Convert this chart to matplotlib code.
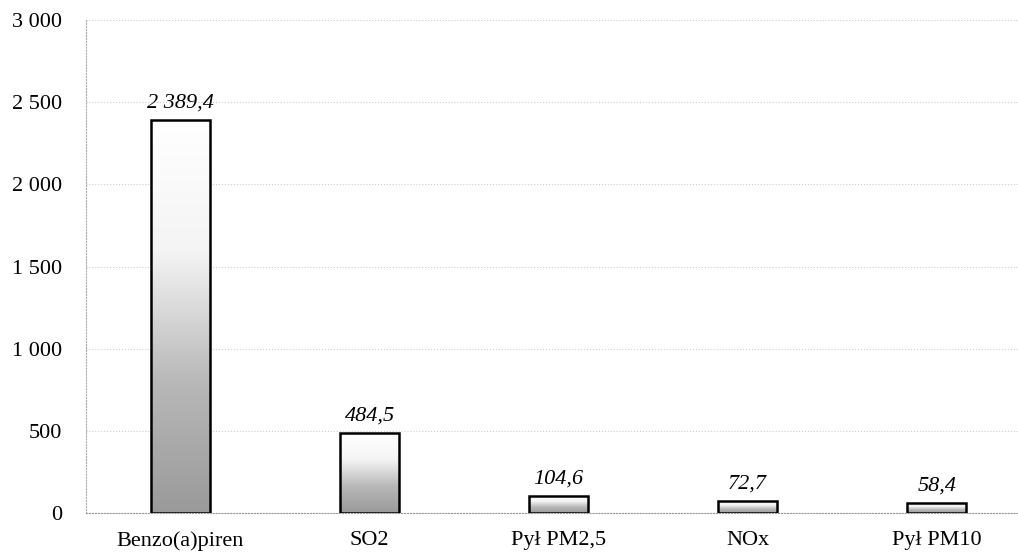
import matplotlib
matplotlib.use("Agg")
import matplotlib.pyplot as plt
import numpy as np
from matplotlib.ticker import FuncFormatter
from matplotlib.colors import LinearSegmentedColormap

categories = ["Benzo(a)piren", "SO2", "Pył PM2,5", "NOx", "Pył PM10"]
values = [2389.4, 484.5, 104.6, 72.7, 58.4]
yticks = [0, 500, 1000, 1500, 2000, 2500, 3000]

plt.rcParams['font.family'] = ['Liberation Serif', 'DejaVu Serif']

fig = plt.figure(figsize=(10.18, 5.53), dpi=100)
ax = fig.add_axes([86/1018, 1-513/553, (1018-86)/1018, (513-20)/553])

x = np.arange(len(categories))
bars = ax.bar(x, values, width=0.31, facecolor='none', edgecolor='black', linewidth=1.8, zorder=3)

cmap = LinearSegmentedColormap.from_list('g', ['#9a9a9a', '#b8b8b8', '#f4f4f4', '#ffffff'])
grad = np.linspace(0, 1, 256).reshape(-1, 1)
for b in bars:
    x0, y0 = b.get_x(), b.get_y()
    w, h = b.get_width(), b.get_height()
    im = ax.imshow(grad, extent=[x0, x0 + w, y0, y0 + h], origin='lower',
                   cmap=cmap, vmin=0, vmax=1, aspect='auto', zorder=2)
    im.set_clip_path(b)

for xi, v in zip(x, values):
    s = f"{v:,.1f}".replace(",", " ").replace(".", ",")
    ax.text(xi, v + 45, s, ha='center', va='bottom', style='italic', fontsize=16)

ax.set_xlim(-0.5, 4.43)
ax.set_ylim(0, 3000)
ax.set_yticks(yticks)
ax.yaxis.set_major_formatter(FuncFormatter(lambda v, p: f"{int(v):,}".replace(",", " ")))
ax.set_xticks(x)
ax.set_xticklabels(categories)
ax.tick_params(axis='y', length=0, pad=17, labelsize=16)
ax.tick_params(axis='x', length=0, pad=13, labelsize=16)
ax.grid(axis='y', color='#cccccc', linestyle=':', linewidth=0.8, zorder=0)
for s in ['top', 'right']:
    ax.spines[s].set_visible(False)
ax.spines['left'].set_color('#aaaaaa')
ax.spines['left'].set_linestyle(':')
ax.spines['bottom'].set_color('#999999')
ax.spines['bottom'].set_linestyle(':')

fig.savefig("out.png", dpi=100)
